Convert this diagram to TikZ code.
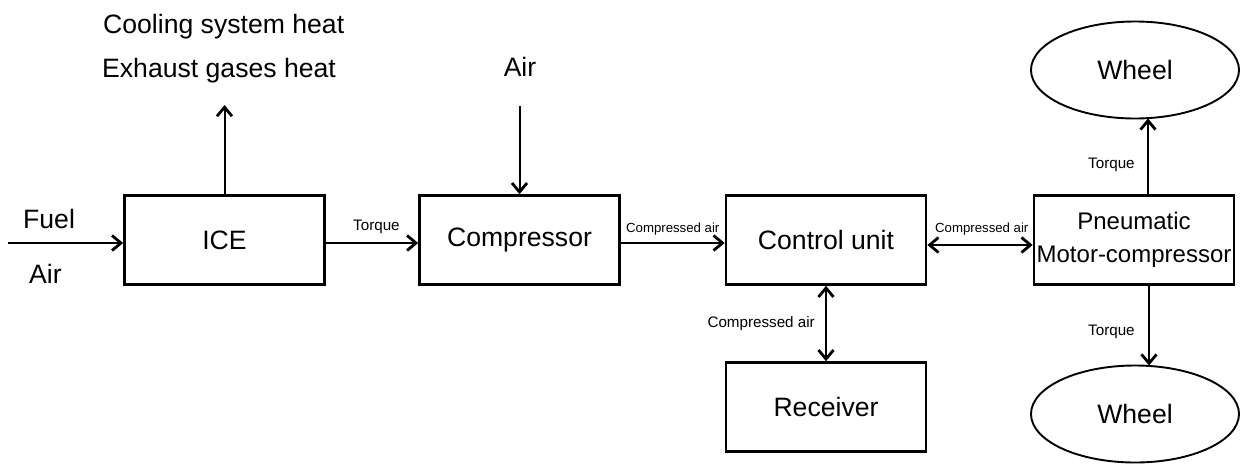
\documentclass[tikz,border=0pt]{standalone}
\usepackage{fontspec}
\setmainfont{Liberation Sans}
\usetikzlibrary{arrows.meta,shapes.geometric}
\begin{document}
\begin{tikzpicture}[x=1pt,y=-1pt,
  tipx/.tip={Straight Barb[length=9pt,width=15pt,line width=2.8pt]},
  blk/.style={draw,line width=2.6pt,minimum width=200pt,minimum height=89pt,inner sep=0pt,font=\fontsize{26.6}{32}\selectfont},
  wheel/.style={draw,ellipse,line width=1.9pt,minimum width=208pt,minimum height=97pt,inner sep=0pt,font=\fontsize{26.6}{32}\selectfont},
  arr/.style={line width=2pt,-tipx},
  darr/.style={line width=2pt,tipx-tipx},
  big/.style={font=\fontsize{26.6}{32}\selectfont,inner sep=0pt},
  sm/.style={font=\fontsize{15.2}{18}\selectfont,inner sep=0pt},
  xs/.style={font=\fontsize{13.2}{16}\selectfont,inner sep=0pt}]
\useasboundingbox (0,0) rectangle (1241,463);

% blocks
\node[blk] (ice) at (224.5,240) {ICE};
\node[blk] (comp) at (519.5,240) {Compressor};
\node[blk] (cu) at (826,240) {Control unit};
\node[blk] (rec) at (826,407) {Receiver};
\node[blk,align=center,font=\fontsize{24}{33}\selectfont] (pm) at (1134,240) {Pneumatic\\Motor-compressor};
\node[wheel] (w1) at (1135,70) {Wheel};
\node[wheel] (w2) at (1135,414) {Wheel};

% free texts
\node[big,anchor=base west] (cool) at (103,33) {Cooling system heat};
\node[big,anchor=base west] (exh) at (102,77) {Exhaust gases heat};
\node[big,anchor=base west] (fuel) at (23,228) {Fuel};
\node[big,anchor=base west] (airl) at (29,283) {Air};
\node[big,anchor=base] (airt) at (520,76) {Air};

% free ends
\coordinate (fin) at (8,243);
\coordinate (heat) at (224.5,105);
\coordinate (ain) at (519.5,106);

% connectors
\draw[arr] (fin) -- ([yshift=-3pt]ice.west);
\draw[arr] (ice.north) -- (heat);
\draw[arr] (ain) -- (comp.north);
\draw[arr] ([yshift=-3pt]ice.east) -- ([yshift=-3pt]comp.west);
\draw[arr] ([yshift=-3pt]comp.east) -- ([yshift=-3pt]cu.west);
\draw[darr] ([yshift=-5pt]cu.east) -- ([yshift=-5pt]pm.west);
\draw[darr] (cu.south) -- (rec.north);
\draw[arr] ([xshift=14pt]pm.north) -- ([xshift=13pt,yshift=1pt]w1.south);
\draw[arr] ([xshift=15pt]pm.south) -- ([xshift=14pt,yshift=-1pt]w2.north);

% labels
\node[sm,anchor=base west] (t1) at (353,230) {Torque};
\node[xs,anchor=base west] (ca1) at (626,232) {Compressed air};
\node[xs,anchor=base west] (ca2) at (935,232) {Compressed air};
\node[sm,anchor=base east] (ca3) at (815,327) {Compressed air};
\node[sm,anchor=base west] (t2) at (1088,168) {Torque};
\node[sm,anchor=base west] (t3) at (1088,335) {Torque};
\end{tikzpicture}
\end{document}
